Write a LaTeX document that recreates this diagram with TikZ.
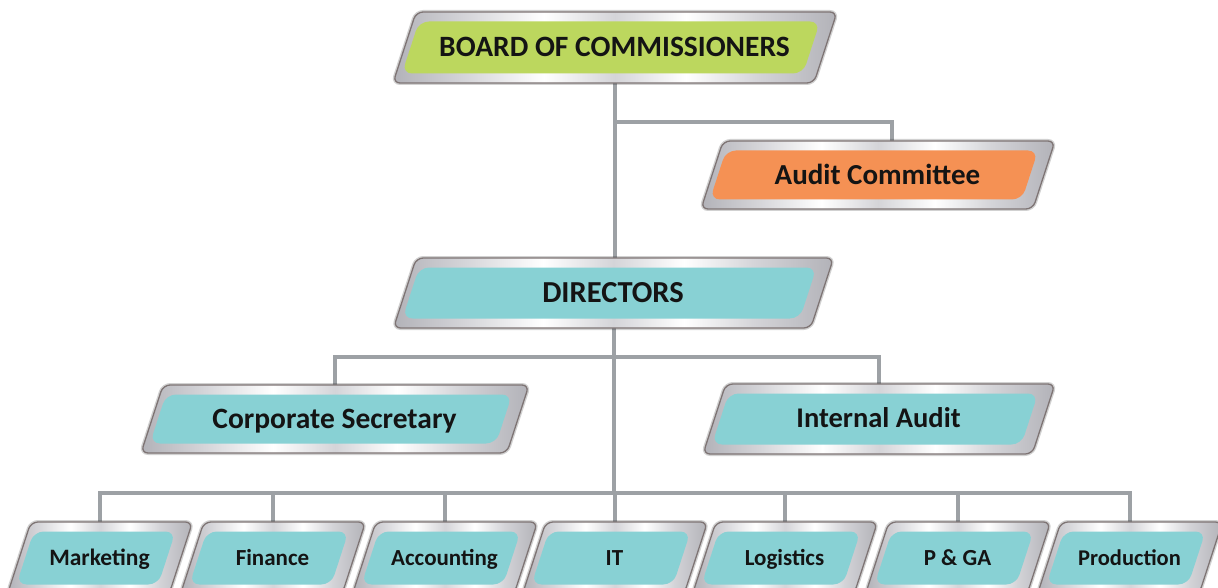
\documentclass[tikz,border=0pt]{standalone}
\usepackage{fontspec}
\setmainfont{Carlito}
\usetikzlibrary{backgrounds}
\definecolor{boxgreen}{HTML}{BCD75E}
\definecolor{boxorange}{HTML}{F59154}
\definecolor{boxteal}{HTML}{88D1D4}
\definecolor{linec}{HTML}{9DA1A5}
\definecolor{edgec}{HTML}{7E7474}
\definecolor{sA}{HTML}{B2B2B8}
\definecolor{sB}{HTML}{D4D4D8}
\pgfdeclarehorizontalshading{silver}{100bp}{color(0bp)=(sA); color(25bp)=(sA); color(33bp)=(sB); color(42bp)=(white); color(50bp)=(sB); color(58bp)=(white); color(66bp)=(sB); color(75bp)=(sA); color(100bp)=(sA)}
\tikzset{
  anchorbox/.style={rectangle, inner sep=0pt},
  frame/.style={rounded corners=7pt, shading=silver,
    draw=edgec, line width=1.3pt,
    preaction={draw=black, line width=4pt, opacity=0.18}},
  innerfill/.style={rounded corners=10pt},
  txt/.style={inner sep=0pt, text depth=0pt, text=black!92},
  conn/.style={draw=linec, line width=4pt},
}
% name, x, y, width, height, colour, font size, text
\newcommand\orgbox[8]{%
  \node[anchorbox, minimum width=#4pt, minimum height=#5pt] (#1) at (#2,#3) {};
  \pgfmathsetmacro\hw{#4/2}\pgfmathsetmacro\hh{#5/2}\pgfmathsetmacro\dd{#5*0.325}%
  \pgfmathsetmacro\iw{(#4-26)/2}\pgfmathsetmacro\ih{(#5-19)/2}\pgfmathsetmacro\id{(#5-19)*0.325}%
  \path[frame] ([shift={(-\hw,\hh)}]#1.center) -- ([shift={(\hw-\dd,\hh)}]#1.center)
     -- ([shift={(\hw,-\hh)}]#1.center) -- ([shift={(-\hw+\dd,-\hh)}]#1.center) -- cycle;
  \path[innerfill, fill=#6] ([shift={(-\iw-4,\ih)}]#1.center) -- ([shift={(\iw-\id-4,\ih)}]#1.center)
     -- ([shift={(\iw-4,-\ih)}]#1.center) -- ([shift={(-\iw+\id-4,-\ih)}]#1.center) -- cycle;
  \node[txt, text height={#7*0.63pt}, font=\fontsize{#7}{#7}\selectfont\bfseries] (#1t) at ([xshift=-0.5pt]#1.center) {#8};}
\begin{document}
\begin{tikzpicture}[x=1pt,y=-1pt]
\useasboundingbox (0,0) rectangle (1218,588);
\clip (0,0) rectangle (1218,588);
\orgbox{board}{615}{47.5}{444}{71}{boxgreen}{29.5}{BOARD OF COMMISSIONERS}
\orgbox{audit}{878}{175}{354}{68}{boxorange}{29}{Audit Committee}
\orgbox{dir}{613.5}{293}{440}{70}{boxteal}{30.5}{DIRECTORS}
\orgbox{cs}{335}{419}{388}{68}{boxteal}{29.5}{Corporate Secretary}
\orgbox{ia}{879}{419}{352}{70}{boxteal}{28.5}{Internal Audit}
\orgbox{b1}{100}{558}{185}{72}{boxteal}{23.5}{Marketing}
\orgbox{b2}{273}{558}{185}{72}{boxteal}{23}{Finance}
\orgbox{b3}{445}{558}{185}{72}{boxteal}{23}{Accounting}
\orgbox{b4}{615}{558}{185}{72}{boxteal}{23}{IT}
\orgbox{b5}{785}{558}{185}{72}{boxteal}{23}{Logistics}
\orgbox{b6}{958}{558}{185}{72}{boxteal}{23}{P \& GA}
\orgbox{b7}{1130}{558}{185}{72}{boxteal}{22.5}{Production}
\coordinate (j1) at (615,122);
\coordinate (j2) at (615,357);
\coordinate (j3) at (615,493);
\begin{pgfonlayer}{background}
\draw[conn] (board.south) -- (board.south |- dir.north);
\draw[conn] (j1) -| ([xshift=14pt]audit.north);
\draw[conn] (cs.north) |- (j2) -| (ia.north);
\draw[conn] (dir.south) -- (dir.south |- j3);
\draw[conn] (b1.north) |- (j3) -| (b7.north);
\foreach \b in {b2,b3,b4,b5,b6}{\draw[conn] (\b.north) -- (\b.north |- j3);}
\end{pgfonlayer}
\end{tikzpicture}
\end{document}
